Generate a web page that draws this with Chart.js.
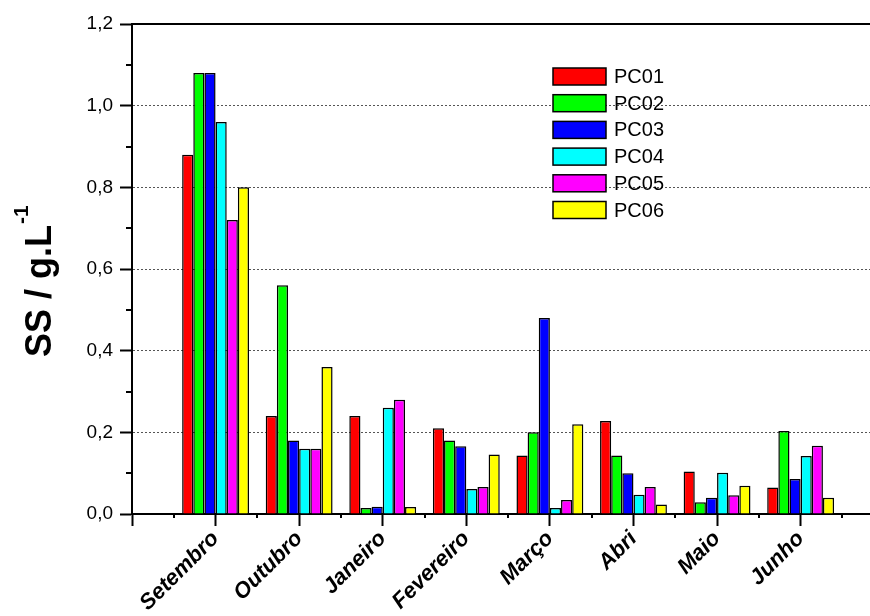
<!DOCTYPE html>
<html>
<head>
<meta charset="utf-8">
<script src="https://cdn.jsdelivr.net/npm/chart.js@4.4.0/dist/chart.umd.min.js"></script>
<style>
  html, body { margin: 0; padding: 0; background: #fff; overflow: hidden; }
  #wrap { width: 870px; height: 616px; }
</style>
</head>
<body>
<div id="wrap"><canvas id="c" width="870" height="616"></canvas></div>
<script>
// Sampling months (x categories)
const months = ['Setembro', 'Outubro', 'Janeiro', 'Fevereiro', 'Março', 'Abri', 'Maio', 'Junho'];

// Sampling points (series)
const seriesNames = ['PC01', 'PC02', 'PC03', 'PC04', 'PC05', 'PC06'];

// Suspended solids, g/L, one value per month
const pc01 = [0.88, 0.24, 0.24, 0.21, 0.143, 0.228, 0.104, 0.065];
const pc02 = [1.08, 0.56, 0.015, 0.18, 0.20, 0.143, 0.029, 0.203];
const pc03 = [1.08, 0.18, 0.018, 0.166, 0.48, 0.10, 0.04, 0.086];
const pc04 = [0.96, 0.16, 0.26, 0.061, 0.015, 0.047, 0.101, 0.142];
const pc05 = [0.72, 0.16, 0.28, 0.066, 0.034, 0.066, 0.046, 0.167];
const pc06 = [0.80, 0.36, 0.017, 0.146, 0.22, 0.023, 0.069, 0.04];

// Y axis tick labels (decimal comma)
const yTickValues = [0, 0.2, 0.4, 0.6, 0.8, 1.0, 1.2];
const yTickLabels = ['0,0', '0,2', '0,4', '0,6', '0,8', '1,0', '1,2'];

const seriesValues = [pc01, pc02, pc03, pc04, pc05, pc06];
const seriesColors = ['#ff0000', '#00ff00', '#0000ff', '#00ffff', '#ff00ff', '#ffff00'];

const FONT = "'Liberation Sans', Arial, sans-serif";

const datasets = seriesNames.map((name, i) => ({
  label: name,
  data: months.map((m, j) => ({ x: j + 1, y: seriesValues[i][j] })),
  backgroundColor: seriesColors[i],
  borderColor: '#000',
  borderWidth: 1.5
}));

function yLabel(v) {
  const k = yTickValues.findIndex(t => Math.abs(t - v) < 1e-6);
  return k >= 0 ? yTickLabels[k] : '';
}

// Extra drawing: top frame line, minor ticks, legend, y-axis title
const decor = {
  id: 'decor',
  afterDatasetsDraw(chart) {
    const { ctx, chartArea: a, scales: { x, y } } = chart;
    ctx.save();
    ctx.strokeStyle = '#000';
    ctx.lineWidth = 2;

    // top frame line
    const yt = Math.round(y.getPixelForValue(1.2));
    ctx.beginPath();
    ctx.moveTo(a.left, yt);
    ctx.lineTo(a.right, yt);
    ctx.stroke();

    // minor ticks on y
    for (let v = 0.1; v < 1.2; v += 0.2) {
      const py = Math.round(y.getPixelForValue(v));
      ctx.beginPath();
      ctx.moveTo(a.left - 6, py);
      ctx.lineTo(a.left, py);
      ctx.stroke();
    }
    // minor ticks on x
    for (let v = 0.5; v < x.max; v += 1) {
      const px = Math.round(x.getPixelForValue(v));
      ctx.beginPath();
      ctx.moveTo(px, a.bottom);
      ctx.lineTo(px, a.bottom + 4);
      ctx.stroke();
    }

    // legend
    const lx = 553, ly = 68, bw = 53, bh = 17, step = 26.7;
    ctx.font = '20px ' + FONT;
    ctx.textBaseline = 'middle';
    ctx.textAlign = 'left';
    chart.data.datasets.forEach((ds, i) => {
      const top = ly + i * step;
      ctx.fillStyle = ds.backgroundColor;
      ctx.fillRect(lx, top, bw, bh);
      ctx.lineWidth = 1.5;
      ctx.strokeStyle = '#000';
      ctx.strokeRect(lx, top, bw, bh);
      ctx.fillStyle = '#000';
      ctx.fillText(ds.label, lx + bw + 8, top + bh / 2 + 1);
    });

    // y axis title with superscript
    ctx.translate(51, 357);
    ctx.rotate(-Math.PI / 2);
    ctx.fillStyle = '#000';
    ctx.textBaseline = 'alphabetic';
    ctx.font = 'bold 36px ' + FONT;
    const main = 'SS / g.L';
    ctx.fillText(main, 0, 0);
    const w = ctx.measureText(main).width;
    ctx.font = 'bold 21px ' + FONT;
    ctx.fillText('-1', w + 1, -23);
    ctx.restore();
  }
};

new Chart(document.getElementById('c'), {
  type: 'bar',
  data: { datasets },
  options: {
    responsive: false,
    animation: false,
    devicePixelRatio: 1,
    layout: { padding: { top: 24, right: 0, left: 0, bottom: 0 } },
    datasets: { bar: { categoryPercentage: 0.8, barPercentage: 1.0 } },
    plugins: { legend: { display: false }, tooltip: { enabled: false } },
    scales: {
      x: {
        type: 'linear',
        min: 0,
        max: 8.83,
        offset: false,
        ticks: {
          stepSize: 1,
          includeBounds: false,
          autoSkip: false,
          minRotation: 45,
          maxRotation: 45,
          padding: 0,
          color: '#000',
          font: { family: FONT, size: 22, weight: 'bold', style: 'italic' },
          callback: v => months[v - 1] || ''
        },
        grid: { offset: false, drawOnChartArea: false, tickLength: 12, tickWidth: 2, tickColor: '#000' },
        border: { color: '#000', width: 2 },
        afterFit: s => { s.height = 102; }
      },
      y: {
        min: 0,
        max: 1.2,
        ticks: {
          stepSize: 0.2,
          padding: 7,
          color: '#000',
          font: { family: FONT, size: 19 },
          callback: v => yLabel(v)
        },
        grid: {
          color: c => (c.tick && (c.tick.value < 0.01 || c.tick.value > 1.19)) ? 'rgba(0,0,0,0)' : '#555',
          lineWidth: 1,
          tickLength: 12,
          tickWidth: 2,
          tickColor: '#000'
        },
        border: { color: '#000', width: 2, dash: [2, 2] },
        afterFit: s => { s.width = 132; }
      }
    }
  },
  plugins: [decor]
});
</script>
</body>
</html>
